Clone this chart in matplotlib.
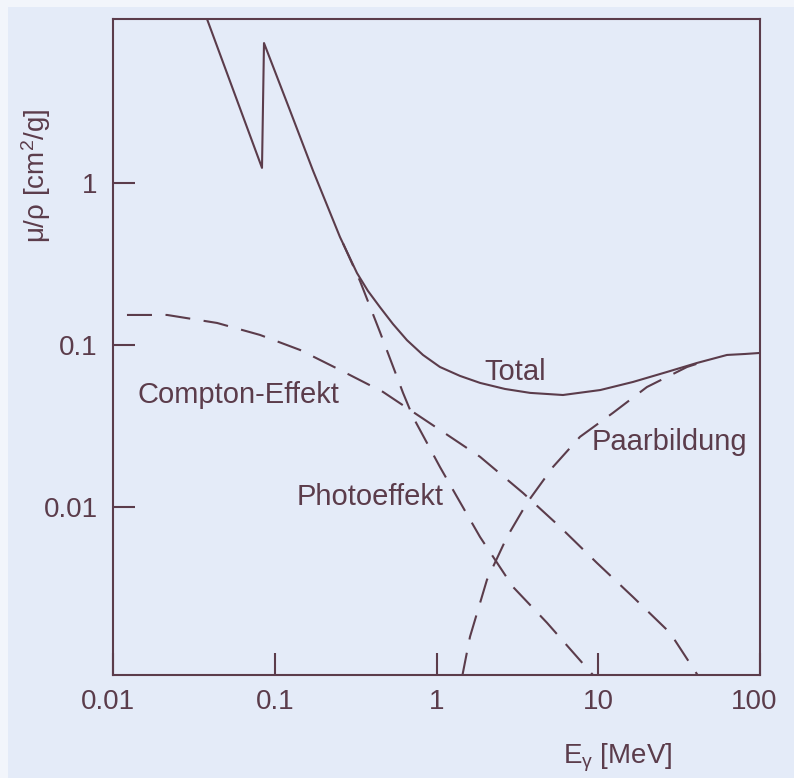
import matplotlib
matplotlib.use("Agg")
import matplotlib.pyplot as plt
from matplotlib.patches import Rectangle
from matplotlib.ticker import NullLocator
from matplotlib.transforms import ScaledTranslation

plt.rcParams["font.family"] = ["Liberation Sans", "DejaVu Sans"]
plt.rcParams["mathtext.fontset"] = "custom"
plt.rcParams["mathtext.rm"] = "Liberation Sans"
plt.rcParams["mathtext.it"] = "Liberation Sans:italic"

INK = "#5b3c4b"
PAPER = "#e4ebf8"
W, H = 794, 778

# mass attenuation of lead (E in MeV, mu/rho in cm^2/g)
total_e = [0.037, 0.0834, 0.0858, 0.124, 0.172, 0.253, 0.3225, 0.377, 0.447, 0.538, 0.657,
           0.825, 1.05, 1.397, 1.86, 2.652, 3.79, 6.05, 10.3, 16.4, 26.6, 40.8, 62.5, 80.7, 100]
total_mu = [11.0, 1.23, 7.22, 2.79, 1.19, 0.462, 0.277, 0.215, 0.171, 0.1346, 0.107,
            0.0868, 0.0732, 0.0645, 0.0584, 0.0536, 0.0507, 0.0492, 0.0528, 0.0592, 0.0682,
            0.0775, 0.0868, 0.088, 0.0893]

photo_e = [0.264, 0.3365, 0.447, 0.621, 0.716, 1.05, 1.339, 1.858, 2.972, 4.82, 9.55]
photo_mu = [0.423, 0.2477, 0.1202, 0.0507, 0.036, 0.01775, 0.01161, 0.00658, 0.00324, 0.00195, 0.0009]

compton_e = [0.0122, 0.0216, 0.044, 0.081, 0.1432, 0.253, 0.467, 1.05, 1.858,
             3.426, 5.8, 9.82, 16.4, 27.8, 42.0]
compton_mu = [0.153, 0.153, 0.1366, 0.1153, 0.0932, 0.0702, 0.0514, 0.03, 0.0205,
              0.01228, 0.00759, 0.00455, 0.00281, 0.00169, 0.0009]

pair_e = [1.438, 1.611, 2.05, 2.729, 3.626, 5.25, 7.71, 12.33, 20.0, 35.4, 45.7]
pair_mu = [0.0009, 0.0016, 0.00358, 0.00658, 0.01066, 0.01775, 0.0272, 0.0382, 0.0551, 0.0732, 0.0795]

x_ticks = [0.01, 0.1, 1, 10, 100]
x_labels = ["0.01", "0.1", "1", "10", "100"]
y_ticks = [0.01, 0.1, 1]
y_labels = ["0.01", "0.1", "1"]


def at(px, py):
    # pixel position in the picture -> figure fraction
    return px / W, 1 - py / H


fig = plt.figure(figsize=(W / 100, H / 100), dpi=100, facecolor="#f2f5fb")
fig.patches.append(Rectangle((8 / W, 0), 1, 1 - 7 / H, transform=fig.transFigure,
                             facecolor=PAPER, edgecolor="none", zorder=-10))

ax = fig.add_axes([113 / W, 1 - 675 / H, (760 - 113) / W, (675 - 19) / H])
ax.set_facecolor("none")
ax.set_xscale("log")
ax.set_yscale("log")
ax.set_xlim(0.01, 100)
ax.set_ylim(0.00093, 10.15)

dash = (0, (12, 6.5))
ax.plot(total_e, total_mu, color=INK, lw=1.5, solid_joinstyle="round")
ax.plot(photo_e, photo_mu, color=INK, lw=1.5, linestyle=dash)
ax.plot(compton_e, compton_mu, color=INK, lw=1.5, linestyle=dash)
ax.plot(pair_e, pair_mu, color=INK, lw=1.5, linestyle=dash)

for s in ax.spines.values():
    s.set_color(INK)
    s.set_linewidth(1.5)

ax.set_xticks(x_ticks)
ax.set_xticklabels(x_labels)
ax.set_yticks(y_ticks)
ax.set_yticklabels(y_labels)
ax.xaxis.set_minor_locator(NullLocator())
ax.yaxis.set_minor_locator(NullLocator())
ax.tick_params(direction="in", length=16, width=1.5, color=INK, labelcolor=INK,
               labelsize=20, top=False, right=False)
ax.tick_params(axis="x", pad=10)
ax.tick_params(axis="y", pad=11)

# end labels sit a little left of the box edges in the original
xl = ax.get_xticklabels()
xl[0].set_transform(xl[0].get_transform() + ScaledTranslation(-0.05, 0, fig.dpi_scale_trans))
xl[-1].set_transform(xl[-1].get_transform() + ScaledTranslation(-0.06, 0, fig.dpi_scale_trans))

kw = dict(color=INK, fontsize=21, ha="center", va="baseline")
fig.text(*at(238, 403), "Compton-Effekt", **kw)
fig.text(*at(370, 505), "Photoeffekt", **kw)
fig.text(*at(515, 380), "Total", **kw)
fig.text(*at(669, 450), "Paarbildung", **kw)

fig.text(*at(36, 176), r"μ/ρ [cm$^\mathrm{2}$/g]", rotation=90, color=INK, fontsize=20,
         ha="center", va="center")
fig.text(*at(618, 763), r"E$_\mathrm{\gamma}$ [MeV]", color=INK, fontsize=20,
         ha="center", va="baseline")

fig.savefig("out.png", dpi=100, facecolor=fig.get_facecolor())
